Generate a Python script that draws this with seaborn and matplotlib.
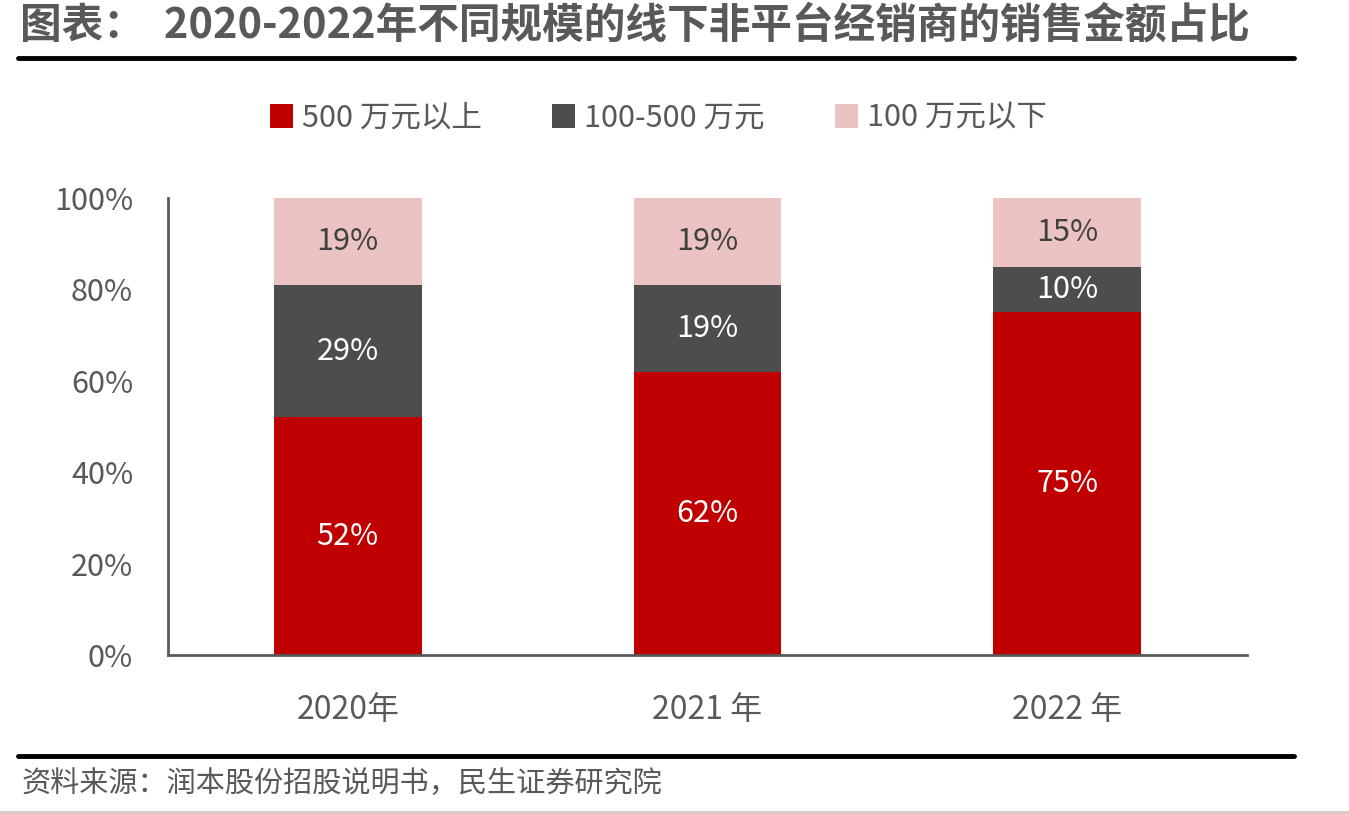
import matplotlib
matplotlib.use("Agg")
import matplotlib.pyplot as plt
import seaborn as sns
import pandas as pd
import numpy as np
from matplotlib.lines import Line2D
from matplotlib.patches import Patch

sns.set_style("white")
plt.rcParams['font.family'] = ['Noto Sans CJK SC', 'DejaVu Sans']

years = ["2020年", "2021 年", "2022 年"]
series_names = ["500 万元以上", "100-500 万元", "100 万元以下"]
above_500 = [52, 62, 75]
mid_100_500 = [29, 19, 10]
below_100 = [19, 19, 15]
colors = ["#C00000", "#4D4D4F", "#EBC3C3"]
label_colors = ["white", "white", "#404040"]

fig = plt.figure(figsize=(13.49, 8.14), dpi=100)
ax = fig.add_axes([0.1245, 0.1953, 0.7999, 0.5615])

series = [above_500, mid_100_500, below_100]
bottom = np.zeros(len(years))
for name, vals, c, lc in zip(series_names, series, colors, label_colors):
    df = pd.DataFrame({"year": years, "value": vals})
    sns.barplot(data=df, x="year", y="value", color=c, bottom=bottom,
                width=0.41, ax=ax, saturation=1, edgecolor="none", linewidth=0)
    for i, v in enumerate(vals):
        ax.text(i, bottom[i] + v / 2, f"{v}%", ha="center", va="center",
                color=lc, fontsize=22)
    bottom = bottom + np.array(vals)

ax.set_ylim(0, 100)
ax.set_xlim(-0.5, 2.5)
ax.set_yticks([0, 20, 40, 60, 80, 100])
ax.set_yticklabels([f"{t}%" for t in [0, 20, 40, 60, 80, 100]], fontsize=22, color="#595959")
ax.set_xticks(range(3))
ax.set_xticklabels(years, fontsize=23, color="#595959")
ax.set_xlabel("")
ax.set_ylabel("")
for s in ["top", "right"]:
    ax.spines[s].set_visible(False)
for s in ["left", "bottom"]:
    ax.spines[s].set_color("#595959")
    ax.spines[s].set_linewidth(2)
ax.tick_params(axis="y", direction="in", length=10, width=2, color="#595959", pad=25)
ax.tick_params(axis="x", length=0, pad=28)
ax.grid(False)

handles = [Patch(facecolor=c, edgecolor="none") for c in colors]
fig.legend(handles, series_names, loc="center", bbox_to_anchor=(0.488, 0.855), ncol=3,
           frameon=False, fontsize=22, handlelength=0.75, handleheight=0.8,
           handletextpad=0.3, columnspacing=2.3, labelcolor="#595959")

fig.text(0.015, 0.969, "图表：  2020-2022年不同规模的线下非平台经销商的销售金额占比",
         fontsize=30, fontweight="bold", color="#595959", ha="left", va="center")
fig.add_artist(Line2D([0.013, 0.959], [0.929, 0.929], color="black", linewidth=3.5,
                      transform=fig.transFigure))
fig.add_artist(Line2D([0.013, 0.959], [0.071, 0.071], color="black", linewidth=3.5,
                      transform=fig.transFigure))
fig.add_artist(Line2D([0.0, 1.0], [0.002, 0.002], color="#DCC6C6", linewidth=2,
                      transform=fig.transFigure))
fig.text(0.016, 0.037, "资料来源：润本股份招股说明书，民生证券研究院",
         fontsize=21, color="#595959", ha="left", va="center")

fig.savefig("out.png", dpi=100)
